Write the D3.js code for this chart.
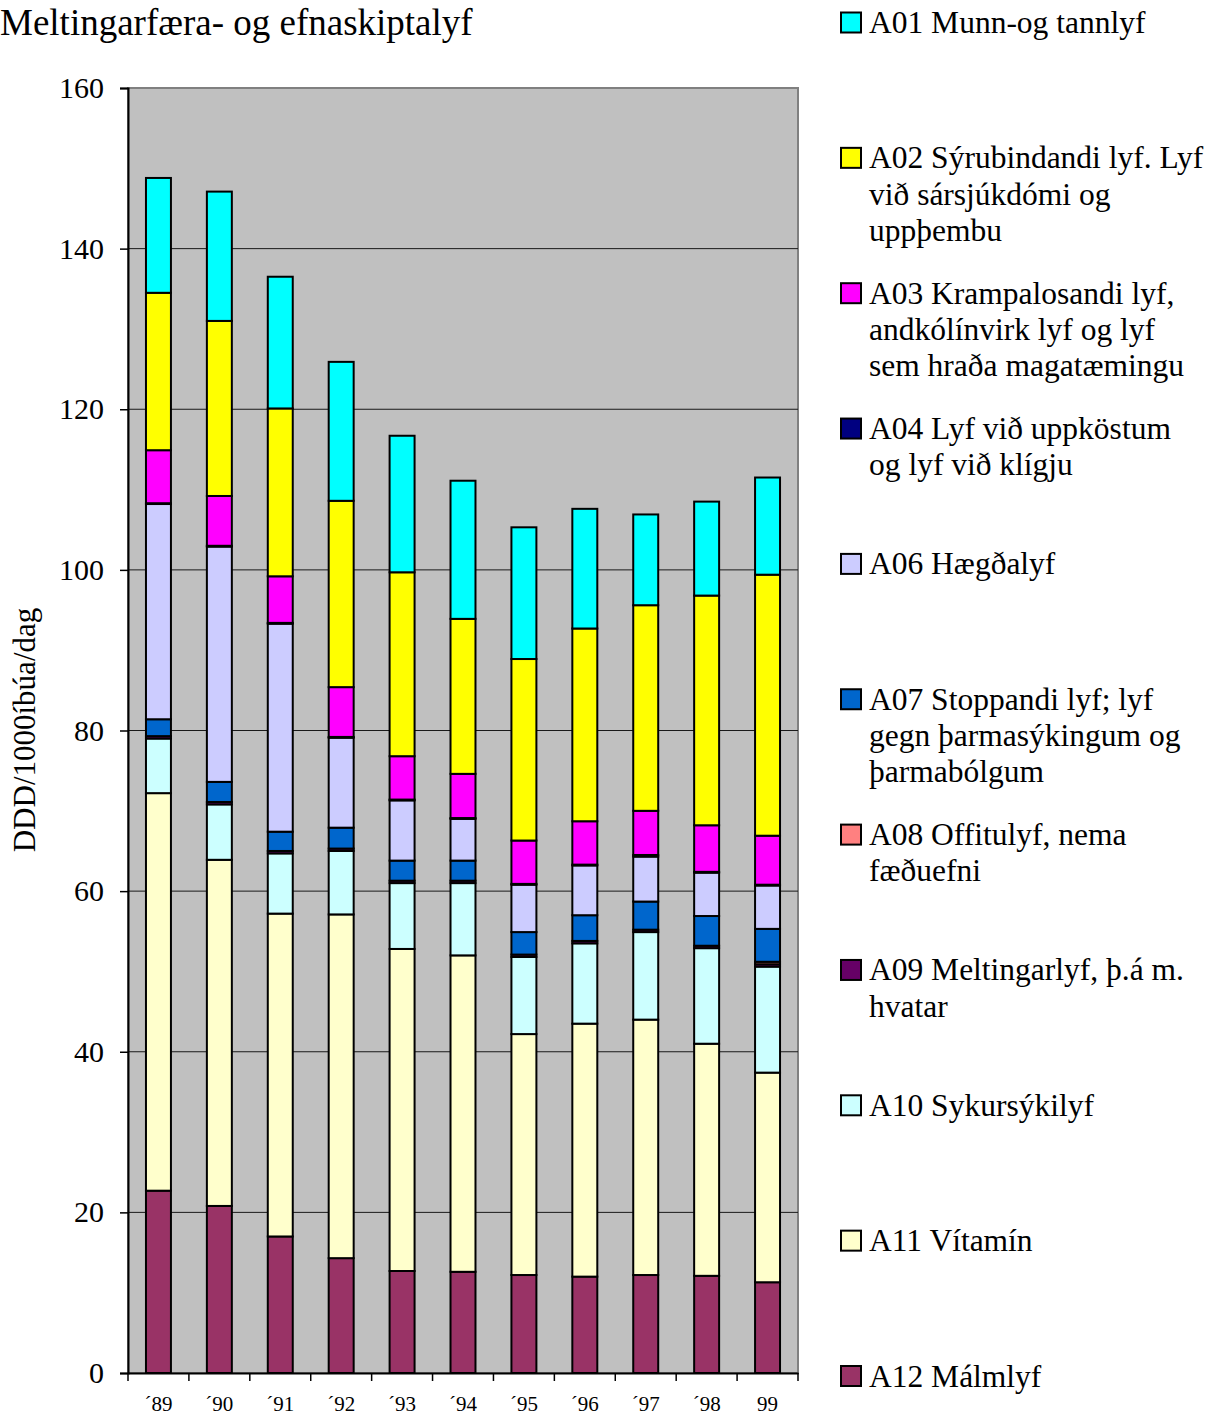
<!DOCTYPE html>
<html>
<head>
<meta charset="utf-8">
<script src="https://cdn.jsdelivr.net/npm/d3@7"></script>
<style>
  html, body { margin: 0; padding: 0; background: #fff; }
  svg { display: block; }
  text { font-family: "Liberation Serif", "Times New Roman", serif; fill: #000; }
</style>
</head>
<body>
<svg id="chart" width="1217" height="1416"></svg>
<script>
// ---------- data ----------
const categories = ["´89","´90","´91","´92","´93","´94","´95","´96","´97","´98","99"];
const yTicks = [0, 20, 40, 60, 80, 100, 120, 140, 160];

// series, stacked from bottom (A12) to top (A01)
const A12 = [22.7, 20.8, 17.0, 14.3, 12.7, 12.6, 12.2, 12.0, 12.2, 12.1, 11.3];
const A11 = [49.5, 43.1, 40.2, 42.8, 40.1, 39.4, 30.0, 31.5, 31.8, 28.9, 26.1];
const A10 = [6.8, 6.9, 7.5, 7.9, 8.2, 9.0, 9.6, 10.0, 10.9, 11.9, 13.2];
const A09 = [0.3, 0.3, 0.3, 0.3, 0.3, 0.3, 0.3, 0.3, 0.3, 0.3, 0.3];
const A08 = [0, 0, 0, 0, 0, 0, 0, 0, 0, 0, 0.3];
const A07 = [2.1, 2.5, 2.4, 2.6, 2.5, 2.5, 2.8, 3.2, 3.5, 3.7, 4.1];
const A06 = [26.8, 29.3, 25.9, 11.2, 7.5, 5.2, 5.9, 6.2, 5.6, 5.4, 5.4];
const A04 = [0.1, 0.1, 0.1, 0.1, 0.1, 0.1, 0.1, 0.1, 0.2, 0.1, 0.1];
const A03 = [6.6, 6.2, 5.8, 6.2, 5.4, 5.5, 5.4, 5.4, 5.5, 5.8, 6.1];
const A02 = [19.6, 21.8, 20.9, 23.2, 22.9, 19.3, 22.6, 24.0, 25.6, 28.6, 32.5];
const A01 = [14.3, 16.1, 16.4, 17.3, 17.0, 17.2, 16.4, 14.9, 11.3, 11.7, 12.1];

const seriesKeys = ["A12","A11","A10","A09","A08","A07","A06","A04","A03","A02","A01"];
const seriesValues = {A12, A11, A10, A09, A08, A07, A06, A04, A03, A02, A01};
const seriesColors = {
  A01: "#00FFFF", A02: "#FFFF00", A03: "#FF00FF", A04: "#000080",
  A06: "#CCCCFF", A07: "#0066CC", A08: "#FF8080", A09: "#660066",
  A10: "#CCFFFF", A11: "#FFFFCC", A12: "#993366"
};
// legend, top to bottom
const legendKeys = ["A01","A02","A03","A04","A06","A07","A08","A09","A10","A11","A12"];
const legendLabels = {
  A01: ["A01 Munn-og tannlyf"],
  A02: ["A02 Sýrubindandi lyf. Lyf", "við sársjúkdómi og", "uppþembu"],
  A03: ["A03 Krampalosandi lyf,", "andkólínvirk lyf og lyf", "sem hraða magatæmingu"],
  A04: ["A04 Lyf við uppköstum", "og lyf við klígju"],
  A06: ["A06 Hægðalyf"],
  A07: ["A07 Stoppandi lyf; lyf", "gegn þarmasýkingum og", "þarmabólgum"],
  A08: ["A08 Offitulyf, nema", "fæðuefni"],
  A09: ["A09 Meltingarlyf, þ.á m.", "hvatar"],
  A10: ["A10 Sykursýkilyf"],
  A11: ["A11 Vítamín"],
  A12: ["A12 Málmlyf"]
};
const titleText = "Meltingarfæra- og efnaskiptalyf";
const yLabel = "DDD/1000íbúa/dag";

// ---------- layout ----------
const svg = d3.select("#chart");
const plot = {left: 128, right: 798, top: 88, bottom: 1373};

const x = d3.scaleBand().domain(categories)
  .range([plot.left, plot.right]).paddingInner(0.59).paddingOuter(0.295);
const y = d3.scaleLinear().domain([0, 160]).range([plot.bottom, plot.top]);

// plot background
svg.append("rect")
  .attr("x", plot.left).attr("y", plot.top)
  .attr("width", plot.right - plot.left).attr("height", plot.bottom - plot.top)
  .attr("fill", "#C0C0C0").attr("stroke", "#808080").attr("stroke-width", 2);

// gridlines
svg.append("g").selectAll("line")
  .data(yTicks.filter(t => t > 0 && t < 160))
  .join("line")
  .attr("x1", plot.left).attr("x2", plot.right)
  .attr("y1", d => y(d)).attr("y2", d => y(d))
  .attr("stroke", "#1a1a1a").attr("stroke-width", 1);

// stacked bars
const table = categories.map((c, i) => {
  const row = {cat: c};
  seriesKeys.forEach(k => row[k] = seriesValues[k][i]);
  return row;
});
const stacked = d3.stack().keys(seriesKeys)(table);

svg.append("g").selectAll("g")
  .data(stacked)
  .join("g")
  .attr("fill", d => seriesColors[d.key])
  .selectAll("rect")
  .data(d => d.filter(s => s[1] - s[0] > 0))
  .join("rect")
  .attr("x", d => x(d.data.cat))
  .attr("width", x.bandwidth())
  .attr("y", d => y(d[1]))
  .attr("height", d => y(d[0]) - y(d[1]))
  .attr("stroke", "#000").attr("stroke-width", 2);

// y axis
const yAxis = svg.append("g").attr("transform", `translate(${plot.left},0)`)
  .call(d3.axisLeft(y).tickValues(yTicks).tickSize(8).tickPadding(16).tickFormat(d3.format("d")));
yAxis.select(".domain").attr("stroke", "#000").attr("stroke-width", 2);
yAxis.selectAll(".tick line").attr("stroke", "#000").attr("stroke-width", 1.5);
yAxis.selectAll(".tick text")
  .style("font-family", '"Liberation Serif", "Times New Roman", serif')
  .style("font-size", "30px").attr("fill", "#000");

// x axis
const xAxis = svg.append("g").attr("transform", `translate(0,${plot.bottom})`)
  .call(d3.axisBottom(x).tickSize(0).tickPadding(23));
xAxis.select(".domain").attr("stroke", "#000").attr("stroke-width", 2);
xAxis.selectAll(".tick text")
  .style("font-family", '"Liberation Serif", "Times New Roman", serif')
  .style("font-size", "21px").attr("fill", "#000");
// x tick marks at category boundaries
const boundaries = categories.map(c => x(c) - x.step() * x.paddingOuter())
  .concat([plot.right]);
svg.append("g").selectAll("line")
  .data(boundaries)
  .join("line")
  .attr("x1", d => d).attr("x2", d => d)
  .attr("y1", plot.bottom).attr("y2", plot.bottom + 8)
  .attr("stroke", "#000").attr("stroke-width", 1.5);

// title
svg.append("text").attr("x", 0).attr("y", 35)
  .style("font-size", "37px").text(titleText);

// y label
svg.append("text")
  .attr("transform", `translate(35,730) rotate(-90)`)
  .attr("text-anchor", "middle")
  .style("font-size", "31px").text(yLabel);

// legend
const ly = d3.scaleLinear().domain([0, legendKeys.length - 1]).range([22.5, 1376]);
const legend = svg.append("g").selectAll("g")
  .data(legendKeys)
  .join("g")
  .attr("transform", (d, i) => `translate(841,${ly(i)})`);
legend.append("rect")
  .attr("x", 0).attr("y", -10).attr("width", 20).attr("height", 20)
  .attr("fill", d => seriesColors[d]).attr("stroke", "#000").attr("stroke-width", 2);
legend.append("text")
  .attr("x", 28).attr("y", 10.5)
  .style("font-size", "31.5px")
  .selectAll("tspan")
  .data(d => legendLabels[d])
  .join("tspan")
  .attr("x", 28)
  .attr("dy", (d, i) => i === 0 ? 0 : 36.3)
  .text(d => d);
</script>
</body>
</html>
